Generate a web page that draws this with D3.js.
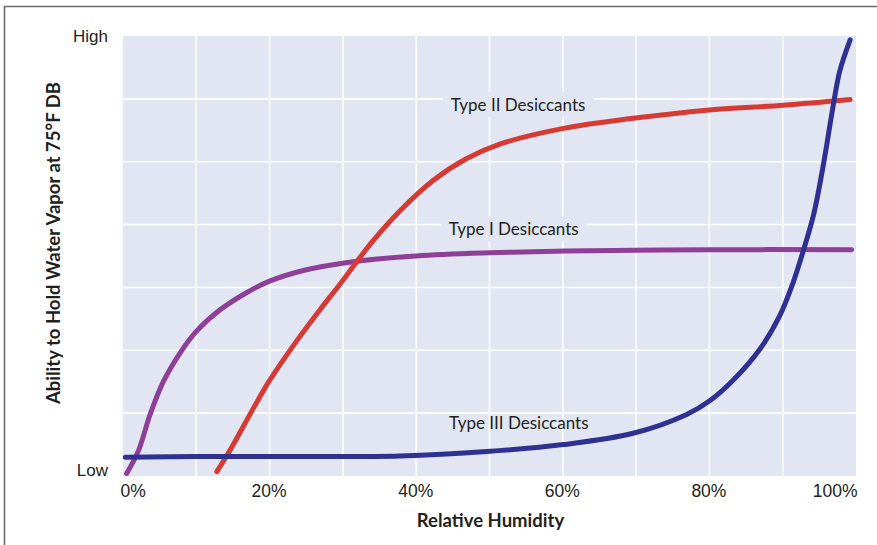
<!DOCTYPE html>
<html>
<head>
<meta charset="utf-8">
<script src="https://cdn.jsdelivr.net/npm/d3@7"></script>
<style>
  html, body { margin: 0; padding: 0; background: #fff; }
  svg { display: block; font-family: "Gill Sans", Lato, "Open Sans", sans-serif; }
</style>
</head>
<body>
<script>
// ---- data (relative humidity %, relative ability 0..7 grid units) ----
const xTickValues = [0, 20, 40, 60, 80, 100];
const xTickLabels = ["0%", "20%", "40%", "60%", "80%", "100%"];
const yTickLabels = ["Low", "High"];

const typeI = [[0.5,0.04],[2.1,0.4],[3.7,0.98],[5.5,1.5],[7.8,1.96],[10,2.3],[13.2,2.64],[16.9,2.92],[20,3.1],[24.6,3.27],[31.4,3.41],[40,3.5],[50,3.55],[60.5,3.58],[80,3.6],[99.4,3.6]];
const typeII = [[12.8,0.07],[14.6,0.41],[17.8,1.08],[20,1.52],[23.7,2.15],[26.9,2.65],[29.6,3.05],[31.7,3.38],[34.1,3.74],[37.8,4.22],[42.3,4.7],[46.9,5.05],[51.4,5.28],[60.1,5.53],[69.6,5.69],[79.6,5.82],[90.1,5.9],[99.2,5.99]];
const typeIII = [[0.3,0.3],[10,0.31],[25,0.31],[37.8,0.32],[49.6,0.39],[60.1,0.5],[69.6,0.68],[76.9,0.98],[80.1,1.2],[83.3,1.53],[86.9,2.02],[89.6,2.55],[91.4,3.07],[92.8,3.58],[94.2,4.15],[95.5,4.92],[96.9,5.9],[97.8,6.45],[99.2,6.94]];

const seriesNames = ["Type I Desiccants", "Type II Desiccants", "Type III Desiccants"];
const seriesData = [typeI, typeII, typeIII];
const seriesColors = ["#8e3f98", "#d63a32", "#2e3192"];
// label anchor positions in data units [x%, y]
const labelPos = [[53.3, 3.83], [53.9, 5.81], [54, 0.75]];

// ---- layout ----
const W = 877, H = 545;
const plot = { left: 123, right: 856, top: 36, bottom: 476 };

const svg = d3.select("body").append("svg").attr("width", W).attr("height", H);

const x = d3.scaleLinear().domain([0, 100]).range([plot.left, plot.right]);
const y = d3.scaleLinear().domain([0, 7]).range([plot.bottom, plot.top]);

// frame (partially cropped box)
svg.append("path")
  .attr("d", `M4.5,${H} L4.5,6.5 L${W},6.5`)
  .attr("fill", "none").attr("stroke", "#6b6b6b").attr("stroke-width", 1.6);

// plot background
svg.append("rect")
  .attr("x", plot.left).attr("y", plot.top)
  .attr("width", plot.right - plot.left).attr("height", plot.bottom - plot.top)
  .attr("fill", "#e1e6f2");

// grid
const grid = svg.append("g").attr("stroke", "#ffffff").attr("stroke-width", 1.6);
grid.selectAll("line.v").data(d3.range(10, 100, 10)).join("line")
  .attr("x1", d => x(d)).attr("x2", d => x(d))
  .attr("y1", plot.top).attr("y2", plot.bottom);
grid.selectAll("line.h").data(d3.range(1, 7)).join("line")
  .attr("y1", d => y(d)).attr("y2", d => y(d))
  .attr("x1", plot.left).attr("x2", plot.right);

// x tick labels
const xAxisG = svg.append("g").attr("transform", `translate(0,${plot.bottom})`)
  .call(d3.axisBottom(x).tickValues(xTickValues).tickFormat((d, i) => xTickLabels[i]).tickSize(0).tickPadding(0));
xAxisG.select(".domain").remove();
xAxisG.selectAll("text")
  .attr("font-size", 17.5).attr("fill", "#231f20").attr("font-family", null)
  .attr("y", 21).attr("dy", null)
  .attr("text-anchor", (d, i) => i === 0 ? "start" : (i === xTickValues.length - 1 ? "end" : "middle"))
  .attr("dx", (d, i) => i === 0 ? -3 : (i === xTickValues.length - 1 ? 1 : -1));

// y tick labels (Low / High)
const yAxisG = svg.append("g").attr("transform", `translate(${plot.left},0)`)
  .call(d3.axisLeft(y).tickValues([0, 7]).tickFormat((d, i) => yTickLabels[i]).tickSize(0).tickPadding(15));
yAxisG.select(".domain").remove();
yAxisG.selectAll("text")
  .attr("font-size", 17).attr("fill", "#231f20").attr("font-family", null)
  .attr("dy", (d, i) => i === 0 ? "-0.05em" : "0.3em");

// series lines
const line = d3.line().x(d => x(d[0])).y(d => y(d[1])).curve(d3.curveCatmullRom.alpha(0.5));
svg.append("g").selectAll("path").data(seriesData).join("path")
  .attr("d", line)
  .attr("fill", "none")
  .attr("stroke", (d, i) => seriesColors[i])
  .attr("stroke-width", 5)
  .attr("stroke-linecap", "round")
  .attr("stroke-linejoin", "round");

// series labels with background boxes (Type I & II)
const labels = svg.append("g");
seriesNames.forEach((name, i) => {
  const g = labels.append("g");
  const t = g.append("text")
    .attr("x", x(labelPos[i][0])).attr("y", y(labelPos[i][1]))
    .attr("text-anchor", "middle")
    .attr("font-size", 17).attr("fill", "#231f20")
    .text(name);
  if (i < 2) {
    const bb = t.node().getBBox();
    g.insert("rect", "text")
      .attr("x", bb.x - 8).attr("y", bb.y - 2)
      .attr("width", bb.width + 16).attr("height", bb.height + 4)
      .attr("fill", "#e1e6f2");
  }
});

// axis titles
svg.append("text")
  .attr("x", (plot.left + plot.right) / 2 + 1).attr("y", 527)
  .attr("text-anchor", "middle").attr("font-size", 18.5).attr("font-weight", "bold")
  .attr("fill", "#231f20").text("Relative Humidity");

svg.append("text")
  .attr("transform", `translate(60,${(plot.top + plot.bottom) / 2 - 13}) rotate(-90)`)
  .attr("text-anchor", "middle").attr("font-size", 18.5).attr("font-weight", "bold")
  .attr("fill", "#231f20").text("Ability to Hold Water Vapor at 75°F DB");
</script>
</body>
</html>
